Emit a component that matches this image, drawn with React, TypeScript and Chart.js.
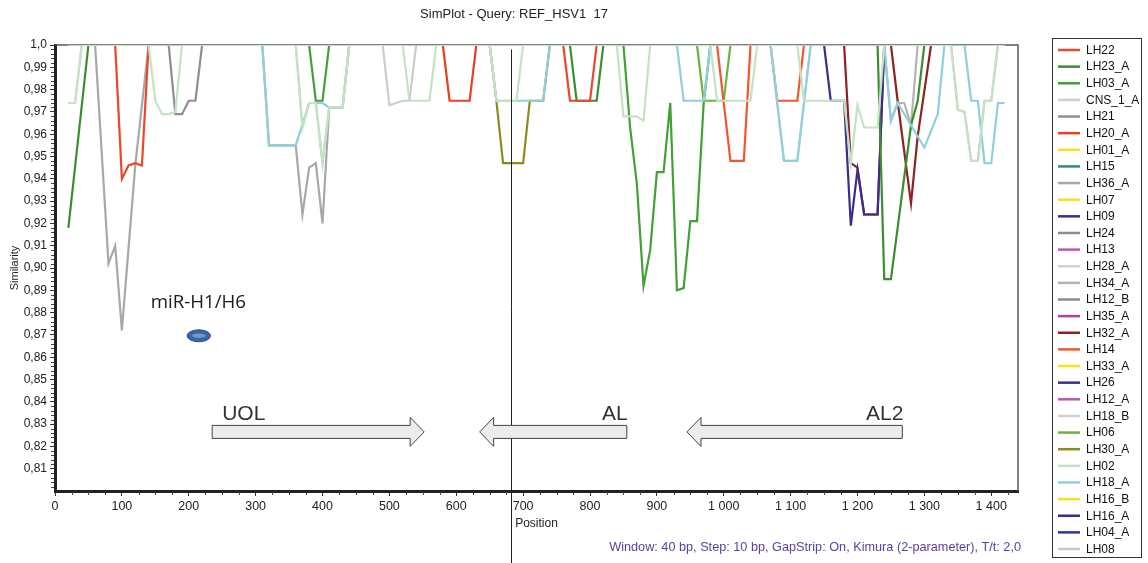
import React, { useEffect, useRef } from "react";
import { Chart, registerables } from "chart.js";
Chart.register(...registerables);

type Pt = [number, number];

const TITLE = "SimPlot - Query: REF_HSV1  17";
const FOOTER = "Window: 40 bp, Step: 10 bp, GapStrip: On, Kimura (2-parameter), T/t: 2,0";
const X_TITLE = "Position";
const Y_TITLE = "Similarity";

const X_MIN = 0;
const X_MAX = 1440;
const Y_MIN = 0.8;
const Y_MAX = 1.0;
const X_TICKS = [0, 100, 200, 300, 400, 500, 600, 700, 800, 900, 1000, 1100, 1200, 1300, 1400];
const Y_TICKS = [0.81, 0.82, 0.83, 0.84, 0.85, 0.86, 0.87, 0.88, 0.89, 0.9, 0.91, 0.92, 0.93, 0.94, 0.95, 0.96, 0.97, 0.98, 0.99, 1.0];

// ---- series (position, similarity) ----
const LH22: Pt[] = [[20, 1], [90, 1], [100, 0.94], [110, 0.946], [120, 0.947], [130, 0.946], [140, 1], [760, 1], [770, 0.975], [800, 0.975], [810, 1], [1420, 1]];
const LH23_A: Pt[] = [[20, 0.918], [50, 1], [770, 1], [780, 0.975], [810, 0.975], [820, 1], [1230, 1], [1240, 0.895], [1250, 0.895], [1280, 0.964], [1290, 0.975], [1300, 1], [1420, 1]];
const LH03_A: Pt[] = [[20, 1], [380, 1], [390, 0.975], [400, 0.975], [410, 1], [850, 1], [860, 0.963], [870, 0.938], [880, 0.892], [890, 0.908], [900, 0.943], [910, 0.943], [920, 0.974], [930, 0.89], [940, 0.891], [950, 0.921], [960, 0.921], [970, 0.974], [980, 1], [1420, 1]];
const CNS_1_A: Pt[] = [[20, 1], [490, 1], [500, 0.973], [510, 0.974], [520, 0.975], [530, 0.975], [540, 1], [1420, 1]];
const LH21: Pt[] = [[20, 1], [170, 1], [180, 0.969], [190, 0.969], [200, 0.975], [210, 0.975], [220, 1], [1420, 1]];
const LH20_A: Pt[] = [[20, 1], [580, 1], [590, 0.975], [620, 0.975], [630, 1], [1420, 1]];
const LH01_A: Pt[] = [[20, 1], [1420, 1]];
const LH15: Pt[] = [[20, 1], [1420, 1]];
const LH36_A: Pt[] = [[20, 1], [60, 1], [80, 0.902], [90, 0.91], [100, 0.872], [120, 0.946], [140, 1], [310, 1], [320, 0.955], [360, 0.955], [370, 0.924], [380, 0.945], [390, 0.947], [400, 0.92], [410, 0.972], [430, 0.972], [440, 1], [1420, 1]];
const LH07: Pt[] = [[20, 1], [1420, 1]];
const LH09: Pt[] = [[20, 1], [1150, 1], [1160, 0.975], [1180, 0.975], [1190, 0.919], [1200, 0.944], [1210, 0.924], [1230, 0.924], [1240, 1], [1420, 1]];
const LH24: Pt[] = [[20, 1], [1420, 1]];
const LH13: Pt[] = [[20, 1], [1420, 1]];
const LH28_A: Pt[] = [[20, 0.974], [30, 0.974], [40, 1], [1070, 1], [1090, 0.948], [1110, 0.948], [1130, 1], [1420, 1]];
const LH34_A: Pt[] = [[20, 1], [1240, 1], [1250, 0.966], [1260, 0.974], [1270, 0.974], [1280, 0.964], [1290, 1], [1420, 1]];
const LH12_B: Pt[] = [[20, 1], [1420, 1]];
const LH35_A: Pt[] = [[20, 1], [1420, 1]];
const LH32_A: Pt[] = [[20, 1], [1180, 1], [1190, 0.947], [1200, 0.945], [1210, 0.924], [1230, 0.924], [1240, 1], [1250, 1], [1260, 0.975], [1280, 0.929], [1290, 0.959], [1310, 1], [1420, 1]];
const LH14: Pt[] = [[20, 1], [990, 1], [1010, 0.948], [1030, 0.948], [1040, 1], [1070, 1], [1080, 0.975], [1110, 0.975], [1120, 1], [1420, 1]];
const LH33_A: Pt[] = [[20, 1], [1420, 1]];
const LH26: Pt[] = [[20, 1], [1420, 1]];
const LH12_A: Pt[] = [[20, 1], [1420, 1]];
const LH18_B: Pt[] = [[20, 1], [1420, 1]];
const LH06: Pt[] = [[20, 1], [960, 1], [970, 0.975], [1000, 0.975], [1010, 1], [1420, 1]];
const LH30_A: Pt[] = [[20, 1], [650, 1], [660, 0.975], [670, 0.947], [700, 0.947], [710, 0.975], [730, 0.975], [740, 1], [1420, 1]];
const LH02: Pt[] = [[20, 0.974], [30, 0.974], [40, 1], [140, 1], [150, 0.975], [160, 0.969], [170, 0.969], [180, 0.97], [190, 1], [360, 1], [370, 0.963], [380, 0.974], [390, 0.974], [400, 0.947], [410, 0.972], [430, 0.972], [440, 1], [520, 1], [530, 0.975], [560, 0.975], [570, 1], [650, 1], [660, 0.975], [690, 0.975], [700, 1], [840, 1], [850, 0.968], [870, 0.968], [880, 0.966], [890, 1], [980, 1], [990, 0.975], [1040, 0.975], [1050, 1], [1110, 1], [1120, 0.975], [1180, 0.975], [1190, 0.947], [1200, 0.973], [1210, 0.963], [1230, 0.963], [1240, 1], [1340, 1], [1350, 0.971], [1360, 0.97], [1370, 0.948], [1380, 0.948], [1390, 0.975], [1400, 0.975], [1410, 1], [1420, 1]];
const LH18_A: Pt[] = [[20, 1], [310, 1], [320, 0.955], [360, 0.955], [380, 0.974], [400, 0.974], [410, 0.972], [430, 0.972], [440, 1], [650, 1], [660, 0.975], [730, 0.975], [740, 1], [930, 1], [940, 0.975], [970, 0.975], [980, 1], [1070, 1], [1090, 0.948], [1110, 0.948], [1130, 1], [1240, 1], [1250, 0.966], [1260, 0.974], [1280, 0.964], [1300, 0.954], [1320, 0.969], [1330, 1], [1360, 1], [1370, 0.975], [1380, 0.975], [1390, 0.947], [1400, 0.947], [1410, 0.974], [1420, 0.974]];
const LH16_B: Pt[] = [[20, 1], [1420, 1]];
const LH16_A: Pt[] = [[20, 1], [1420, 1]];
const LH04_A: Pt[] = [[20, 1], [1420, 1]];
const LH08: Pt[] = [[20, 1], [360, 1], [370, 0.963], [380, 0.974], [390, 0.974], [400, 0.947], [410, 0.972], [430, 0.972], [440, 1], [1340, 1], [1350, 0.971], [1360, 0.97], [1370, 0.948], [1380, 0.948], [1390, 0.975], [1400, 0.975], [1410, 1], [1420, 1]];

const SERIES_NAMES = ["LH22", "LH23_A", "LH03_A", "CNS_1_A", "LH21", "LH20_A", "LH01_A", "LH15", "LH36_A", "LH07", "LH09", "LH24", "LH13", "LH28_A", "LH34_A", "LH12_B", "LH35_A", "LH32_A", "LH14", "LH33_A", "LH26", "LH12_A", "LH18_B", "LH06", "LH30_A", "LH02", "LH18_A", "LH16_B", "LH16_A", "LH04_A", "LH08"];
const SERIES_DATA: Pt[][] = [LH22, LH23_A, LH03_A, CNS_1_A, LH21, LH20_A, LH01_A, LH15, LH36_A, LH07, LH09, LH24, LH13, LH28_A, LH34_A, LH12_B, LH35_A, LH32_A, LH14, LH33_A, LH26, LH12_A, LH18_B, LH06, LH30_A, LH02, LH18_A, LH16_B, LH16_A, LH04_A, LH08];
const SERIES_COLORS = ["#e8482c", "#3a8e30", "#43a036", "#cdcdcd", "#8f8f8f", "#ea4020", "#f4e41c", "#2c8c86", "#a8a8a8", "#f4e41c", "#3c2c8c", "#8c8c8c", "#c454b4", "#d0d0d0", "#b4b4b4", "#8c8c8c", "#b040a4", "#8c2222", "#f0582c", "#f4e41c", "#3c2c8c", "#c454b4", "#cfcfcf", "#6cb43c", "#8c8c1e", "#c4e2c4", "#90cfdc", "#f4e41c", "#3c2c8c", "#3434a0", "#c8c8c8"];
const DRAWN_ON_TOP = ["LH02", "LH08", "LH18_A", "LH28_A"];

// ---- annotations (in data units) ----
const MARKER_POSITION = 682;
const MIR_LABEL = "miR-H1/H6";
const MIR_LABEL_AT: Pt = [143, 0.8819];
const MIR_MARK_AT: Pt = [215, 0.8696];
const ARROW_LABELS = ["UOL", "AL", "AL2"];
const ARROW_FROM = [235, 855, 1267];
const ARROW_TO = [552, 635, 945];
const ARROW_Y = 0.8265;
const ARROW_LABEL_Y = 0.8318;

const FONT = "'Liberation Sans', Arial, sans-serif";

function fmtX(v: number): string {
  if (v >= 1000) return `${Math.floor(v / 1000)} ${String(v % 1000).padStart(3, "0")}`;
  return String(v);
}
function fmtY(v: number): string {
  if (v > 0.9995) return "1,0";
  return v.toFixed(2).replace(".", ",");
}

const decorPlugin = {
  id: "decor",
  beforeDatasetsDraw(chart: any) {
    const { ctx, chartArea: a, scales } = chart;
    const xs = scales.x, ys = scales.y;
    ctx.save();
    ctx.strokeStyle = "#5a5a5a";
    ctx.lineWidth = 1.5;
    ctx.beginPath();
    ctx.moveTo(a.left, a.top);
    ctx.lineTo(a.right, a.top);
    ctx.lineTo(a.right, a.bottom);
    ctx.stroke();
    // minor ticks
    ctx.strokeStyle = "#444";
    ctx.lineWidth = 1;
    ctx.beginPath();
    for (let v = 25; v < X_MAX; v += 25) {
      if (v % 100 === 0) continue;
      const px = Math.round(xs.getPixelForValue(v)) + 0.5;
      ctx.moveTo(px, a.bottom + 1);
      ctx.lineTo(px, a.bottom + 4);
    }
    for (let k = 802; k < 1000; k += 2) {
      if (k % 10 === 0) continue;
      const py = Math.round(ys.getPixelForValue(k / 1000)) + 0.5;
      ctx.moveTo(a.left - 1, py);
      ctx.lineTo(a.left - 4, py);
    }
    ctx.stroke();
    ctx.restore();
  },
  afterDatasetsDraw(chart: any) {
    const { ctx, scales } = chart;
    const xs = scales.x, ys = scales.y;
    ctx.save();
    // vertical marker line
    const mx = Math.round(xs.getPixelForValue(MARKER_POSITION)) + 0.5;
    ctx.strokeStyle = "#222";
    ctx.lineWidth = 1;
    ctx.beginPath();
    ctx.moveTo(mx, ys.getPixelForValue(0.998));
    ctx.lineTo(mx, chart.height);
    ctx.stroke();

    // arrows
    const yc = ys.getPixelForValue(ARROW_Y);
    const bodyH = 6.5, headH = 14.5, headL = 14;
    for (let i = 0; i < ARROW_LABELS.length; i++) {
      const x0 = xs.getPixelForValue(ARROW_FROM[i]);
      const x1 = xs.getPixelForValue(ARROW_TO[i]);
      const dir = x1 > x0 ? 1 : -1;
      const xb = x1 - dir * headL;
      ctx.beginPath();
      ctx.moveTo(x0, yc - bodyH);
      ctx.lineTo(xb, yc - bodyH);
      ctx.lineTo(xb, yc - headH);
      ctx.lineTo(x1, yc);
      ctx.lineTo(xb, yc + headH);
      ctx.lineTo(xb, yc + bodyH);
      ctx.lineTo(x0, yc + bodyH);
      ctx.closePath();
      ctx.fillStyle = "#ececec";
      ctx.fill();
      ctx.strokeStyle = "#444";
      ctx.lineWidth = 1;
      ctx.stroke();
      ctx.fillStyle = "#333";
      ctx.font = `21px ${FONT}`;
      ctx.textBaseline = "alphabetic";
      const ly = ys.getPixelForValue(ARROW_LABEL_Y);
      if (dir > 0) {
        ctx.textAlign = "left";
        ctx.fillText(ARROW_LABELS[i], x0 + 10, ly);
      } else {
        ctx.textAlign = "right";
        ctx.fillText(ARROW_LABELS[i], x0 + 1, ly);
      }
    }

    // miR label and marker
    ctx.fillStyle = "#1a1a1a";
    ctx.font = `18.7px 'Open Sans', sans-serif`;
    ctx.textAlign = "left";
    ctx.textBaseline = "alphabetic";
    ctx.fillText(MIR_LABEL, xs.getPixelForValue(MIR_LABEL_AT[0]), ys.getPixelForValue(MIR_LABEL_AT[1]));
    const ex = xs.getPixelForValue(MIR_MARK_AT[0]);
    const ey = ys.getPixelForValue(MIR_MARK_AT[1]);
    ctx.beginPath();
    ctx.ellipse(ex, ey, 11.7, 6, 0, 0, Math.PI * 2);
    ctx.fillStyle = "#3b66a2";
    ctx.fill();
    ctx.strokeStyle = "#2c5088";
    ctx.lineWidth = 1;
    ctx.stroke();
    ctx.beginPath();
    ctx.ellipse(ex, ey, 7, 2.2, 0, 0, Math.PI * 2);
    ctx.fillStyle = "#6a98d2";
    ctx.fill();
    ctx.restore();
  },
  afterDraw(chart: any) {
    const { ctx } = chart;
    ctx.save();
    ctx.fillStyle = "#222";
    ctx.font = `13px ${FONT}`;
    ctx.textAlign = "center";
    ctx.textBaseline = "middle";
    ctx.fillText(TITLE, 514, 14);

    ctx.fillStyle = "#5b3fa0";
    ctx.font = `12.7px ${FONT}`;
    ctx.textAlign = "right";
    ctx.fillText(FOOTER, 1021, 547);

    // legend
    const ds = chart.data.datasets;
    const left = 1052, top = 38, w = 89, h = 519;
    ctx.fillStyle = "#fff";
    ctx.fillRect(left, top, w, h);
    ctx.strokeStyle = "#333";
    ctx.lineWidth = 1;
    ctx.strokeRect(left + 0.5, top + 0.5, w, h);
    const step = (549 - 50) / (ds.length - 1);
    ctx.textAlign = "left";
    ctx.textBaseline = "middle";
    ctx.font = `12px ${FONT}`;
    for (let i = 0; i < ds.length; i++) {
      const y = 50 + i * step;
      ctx.strokeStyle = ds[i].borderColor;
      ctx.lineWidth = 2.5;
      ctx.beginPath();
      ctx.moveTo(1058, y);
      ctx.lineTo(1080, y);
      ctx.stroke();
      ctx.fillStyle = "#111";
      ctx.fillText(ds[i].label, 1086, y + 0.5);
    }
    ctx.restore();
  },
};

export default function App() {
  const ref = useRef<HTMLCanvasElement>(null);
  useEffect(() => {
    const canvas = ref.current!;
    Chart.defaults.font.family = FONT;
    const datasets = SERIES_NAMES.map((name, i) => {
      const top = DRAWN_ON_TOP.indexOf(name);
      return {
        label: name,
        data: SERIES_DATA[i],
        borderColor: SERIES_COLORS[i],
        backgroundColor: SERIES_COLORS[i],
        borderWidth: 2.2,
        pointRadius: 0,
        pointHoverRadius: 0,
        tension: 0,
        fill: false,
        order: top >= 0 ? top : 10 + i,
      };
    });
    const chart = new Chart(canvas, {
      type: "line",
      data: { datasets } as any,
      options: {
        responsive: false,
        animation: false,
        devicePixelRatio: 1,
        events: [],
        layout: { padding: { top: 45, right: 130, bottom: 30, left: 0 } },
        plugins: {
          legend: { display: false },
          tooltip: { enabled: false },
          title: { display: false },
        },
        scales: {
          x: {
            type: "linear",
            min: X_MIN,
            max: X_MAX,
            afterFit: (s: any) => { s.height = 42; },
            afterBuildTicks: (s: any) => { s.ticks = X_TICKS.map((value) => ({ value })); },
            ticks: { padding: 3, color: "#222", font: { size: 12.5 }, maxRotation: 0, autoSkip: false, callback: (v: any) => fmtX(Number(v)) },
            grid: { drawOnChartArea: false, drawTicks: true, tickLength: 5, color: "#333" },
            border: { color: "#222", width: 3 },
            title: { display: true, text: X_TITLE, color: "#222", font: { size: 12 }, padding: { top: 0, bottom: 2 } },
          },
          y: {
            type: "linear",
            min: Y_MIN,
            max: Y_MAX,
            afterFit: (s: any) => { s.width = 55; },
            afterBuildTicks: (s: any) => { s.ticks = Y_TICKS.map((value) => ({ value })); },
            ticks: { padding: 3, color: "#222", font: { size: 12 }, autoSkip: false, callback: (v: any) => fmtY(Number(v)) },
            grid: { drawOnChartArea: false, drawTicks: true, tickLength: 5, color: "#333" },
            border: { color: "#222", width: 3 },
            title: { display: true, text: Y_TITLE, color: "#222", font: { size: 11 }, padding: { top: 8, bottom: 0 } },
          },
        },
      } as any,
      plugins: [decorPlugin],
    });
    return () => chart.destroy();
  }, []);
  return (
    <div style={{ position: "absolute", left: 0, top: 0, width: 1148, height: 563, background: "#fff" }}>
      <canvas ref={ref} width={1148} height={563} style={{ display: "block", width: 1148, height: 563 }} />
    </div>
  );
}
